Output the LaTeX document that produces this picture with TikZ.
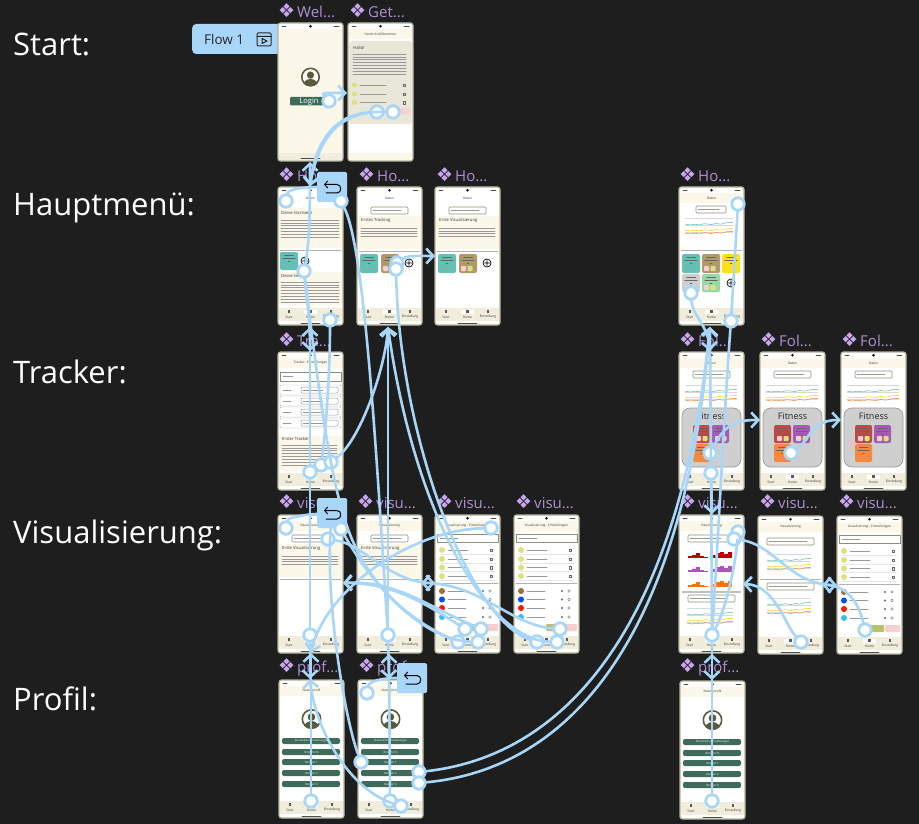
\documentclass[tikz,border=0pt]{standalone}
\usepackage{fontspec}
\setmainfont{Open Sans}
\newfontfamily\symbfont{DejaVu Sans}
\usetikzlibrary{arrows.meta}

\definecolor{canvas}{HTML}{1E1E1E}
\definecolor{wireblue}{HTML}{A8D6F8}
\definecolor{chipviolet}{HTML}{C8A6F0}
\definecolor{labviolet}{HTML}{AE90D2}
\definecolor{edgeolive}{HTML}{B4B19A}
\definecolor{cream}{HTML}{FBF8E9}
\definecolor{navcream}{HTML}{F0EDDC}
\definecolor{panelgrey}{HTML}{E9E7D8}
\definecolor{pillgreen}{HTML}{3F6B5A}
\definecolor{avatarolive}{HTML}{5A5A3C}
\definecolor{limeyellow}{HTML}{DCE27E}
\definecolor{softpink}{HTML}{F6CFCF}
\definecolor{tealtile}{HTML}{66BFB2}
\definecolor{browntile}{HTML}{AE9A6A}
\definecolor{yellowtile}{HTML}{FFE11A}
\definecolor{greytile}{HTML}{CFCFCF}
\definecolor{greentile}{HTML}{96D9A3}
\definecolor{redtile}{HTML}{B84A48}
\definecolor{violettile}{HTML}{A55BB5}
\definecolor{orangetile}{HTML}{F08A45}

\tikzset{
  rowlabel/.style={text=white, font=\fontsize{31}{36}\selectfont, anchor=west, inner sep=0pt},
  chip/.style={text=labviolet, font=\fontsize{15}{18}\selectfont, anchor=west, inner sep=0pt},
  flowtag/.style={fill=wireblue, rounded corners=4pt, minimum width=90pt, minimum height=30pt,
    text=black!85, font=\fontsize{13.5}{16}\selectfont, inner sep=0pt},
  phoneframe/.style={draw=edgeolive, fill=white, line width=1.2pt, rounded corners=2.5pt,
    minimum width=65pt, minimum height=138pt, inner sep=0pt},
  backbox/.style={fill=wireblue, rounded corners=1.5pt, minimum size=30pt, inner sep=0pt},
  hotspot/.style={circle, draw=wireblue, fill=white, line width=2.8pt, minimum size=12.5pt, inner sep=0pt},
  wire/.style={draw=wireblue, line width=2.6pt},
  tip/.style={wire, -{Straight Barb[length=7pt,width=15pt,line width=2.6pt]}},
  textrow/.style={draw=black!40, line width=0.55pt},
  nano/.style={text=black!80, font=\fontsize{3.2}{3.8}\selectfont, inner sep=0pt},
  micro/.style={text=black!80, font=\fontsize{4.2}{5}\selectfont, inner sep=0pt},
  tinypill/.style={text=white, font=\fontsize{2.8}{3.2}\selectfont, inner sep=0pt},
}

% ---------- screen parts ----------
\newcommand{\phone}[4]{%
  \node[phoneframe] (#1) at ({#2+32.5},{#3+69}) {};
  \begin{scope}[shift={(#2,#3)}]
    \fill[cream] (1,6) rectangle (64,16);
    \fill[black] (32.5,3.2) circle (1.4);
    \draw[black!70, line width=0.6pt] (4,3) -- (8,3) (56,3) -- (61,3);
    \node[nano] (#1title) at (32.5,11) {#4};
  \end{scope}}
\newcommand{\navbar}[1]{%
  \fill[navcream] (1,121) rectangle (64,134);
  \fill[white] (26,122.5) rectangle (39,126.5);
  \foreach \sx in {11,32.5,53} \fill[black!65] ({\sx-1.2},123) rectangle ({\sx+1.2},126);
  \node[nano] (#1a) at (11,130) {Start};
  \node[nano] (#1b) at (32.5,130) {Home};
  \node[nano] (#1c) at (53,130) {Einstellung};
  \draw[black!70, line width=0.7pt] (23,136) -- (42,136);}
\newcommand{\txtrows}[4]{%
  \foreach \ri in {1,...,#4} \draw[textrow] (#1,{#2+\ri*2.9}) -- ++(#3,0);}
\newcommand{\dropbox}[3]{%
  \draw[edgeolive!80!black, fill=white, line width=0.6pt, rounded corners=1pt] (#1,#2) rectangle ++(#3,7);
  \draw[textrow] ({#1+2},{#2+3.5}) -- ++({#3-9},0);}
\newcommand{\tile}[5]{%
  \fill[#5, rounded corners=2pt] (#1,#2) rectangle ++(#3,#4);
  \draw[black!60, line width=0.5pt] ({#1+#3*0.25},{#2+3}) -- ++({#3*0.5},0)
    ({#1+#3*0.15},{#2+6.5}) -- ++({#3*0.7},0) ({#1+#3*0.45},{#2+9.5}) -- ++({#3*0.1},0);}
\newcommand{\tilebtn}[2]{%
  \fill[softpink, rounded corners=0.8pt] ({#1},{#2}) rectangle ++(5,5);
  \fill[limeyellow, rounded corners=0.8pt] ({#1+6.5},{#2}) rectangle ++(5,5);}
\newcommand{\plusmark}[2]{%
  \draw[black, line width=0.7pt] (#1,#2) circle (4) ({#1-2.5},#2) -- ({#1+2.5},#2) (#1,{#2-2.5}) -- (#1,{#2+2.5});}
\newcommand{\wobble}[4]{%
  \draw[#4, line width=0.55pt] (#1,{#2}) -- ++({#3*.1},1) -- ++({#3*.1},-.8) -- ++({#3*.1},.7) -- ++({#3*.1},-1.2)
    -- ++({#3*.15},.8) -- ++({#3*.1},-1) -- ++({#3*.1},.7) -- ++({#3*.1},-1.4) -- ++({#3*.15},-.4);}
\newcommand{\chart}[3]{%
  \draw[black!15, line width=0.4pt] (#1,#2) -- ++(#3,0) (#1,{#2+7}) -- ++(#3,0) (#1,{#2+14}) -- ++(#3,0);
  \wobble{#1}{#2+6}{#3}{tealtile}
  \wobble{#1}{#2+12}{#3}{yellowtile!80!orange}
  \wobble{#1}{#2+15}{#3}{orangetile}}
\newcommand{\bars}[3]{%
  \foreach \bx/\bh in {0/2,4/3,8/5,12/2,16/1,24/3,28/5,32/6,36/4,40/6}
    \fill[#3] ({#1+\bx},#2) rectangle ++(3.6,-\bh);}
\newcommand{\avatar}[3]{%
  \begin{scope}
    \clip (#1,#2) circle (#3);
    \fill[white] (#1,#2) circle (#3);
    \fill[avatarolive] (#1,{#2-#3*.2}) circle ({#3*.38});
    \fill[avatarolive] (#1,{#2+#3*1.0}) circle ({#3*.8});
  \end{scope}
  \draw[avatarolive, line width=1.6pt] (#1,#2) circle ({#3-.8});}
\newcommand{\homepanel}[2]{%
  \fill[cream] (1,29) rectangle (64,62);
  \node[micro, anchor=west] (#2) at (4,33) {#1};
  \txtrows{4}{38}{56}{4}
  \draw[black!30, line width=0.5pt] (2,64) -- (63,64);}
\newcommand{\vissettings}[1]{%
  \draw[edgeolive!80!black, line width=0.7pt] (2,19) rectangle (63,27);
  \draw[textrow] (5,23) -- ++(18,0);
  \foreach \sy in {35,44,52.5,61} {
    \fill[limeyellow] (7,\sy) circle (3);
    \draw[textrow] (13,\sy) -- ++(20,0);
    \draw[black!60, line width=0.4pt] (55,{\sy-1.3}) rectangle ++(2.6,2.6);
    \draw[black!10, line width=0.4pt] (5,{\sy+4}) -- (60,{\sy+4});}
  \draw[black!30, line width=0.5pt] (2,68.5) -- (63,68.5);
  \foreach \sy/\sc in {76/brown!85!black,84.5/blue!70!cyan,93/red!85!orange,102/cyan!80} {
    \fill[\sc] (7,\sy) circle (3);
    \draw[textrow] (13,\sy) -- ++(18,0);
    \fill[black!60] (48,\sy) circle (1.2);
    \draw[black!60, line width=0.4pt] (55,\sy) circle (1.3);}
  \fill[limeyellow!85!black, rounded corners=1pt] (32,109) rectangle ++(15,7);
  \fill[softpink, rounded corners=1pt] (48,109) rectangle ++(15,7);
  \navbar{#1}}
\newcommand{\fitnessbox}[1]{%
  \dropbox{14}{19}{37}
  \chart{6}{33}{52}
  \fill[greytile, draw=black!40, line width=0.7pt, rounded corners=8pt] (3,56) rectangle (62,115);
  \node[text=black!85, font=\fontsize{9}{11}\selectfont, inner sep=0pt] (#1) at (32.5,64) {Fitness};
  \tile{14}{73}{17}{18}{redtile}\tilebtn{17}{84}
  \tile{33}{73}{17}{18}{violettile}\tilebtn{36}{84}
  \tile{14}{92}{17}{18}{orangetile}
  \navbar{#1nav}}
\newcommand{\returnmark}[2]{%
  \begin{scope}[shift={(#1,#2)}]
    \draw[black, line width=1pt, -{Straight Barb[length=3pt,width=7pt,line width=1pt]}]
      (-6,6) -- (5,6) .. controls (10,6) and (10,-2.5) .. (5,-2.5) -- (-8,-2.5);
  \end{scope}}

\begin{document}
\begin{tikzpicture}[x=1pt,y=-1pt,line cap=round,line join=round]
\useasboundingbox (0,0) rectangle (919,824);
\fill[canvas] (0,0) rectangle (919,824);

% ---------- row labels ----------
\node[rowlabel] (lblStart) at (13,44) {Start:};
\node[rowlabel] (lblMenu) at (13,208) {Hauptmenü:};
\node[rowlabel] (lblTracker) at (13,372) {Tracker:};
\node[rowlabel] (lblVis) at (13,535) {Visualisierung:};
\node[rowlabel] (lblProfil) at (13,699) {Profil:};

% ---------- frame chips ----------
\foreach \cname/\cx/\cy/\ctext in {a/278/11/Wel, b/349/11/Get,
    c/278/175/Ho, d/358/175/Ho, e/436/175/Ho, f/679/175/Ho,
    g/278/340/Tra, h/679/340/Fol, i/760/340/Fol, j/841/340/Fol,
    k/278/502/visu, l/357/502/visu, m/436/502/visu, n/515/502/visu,
    o/679/502/visu, p/759/502/visu, q/838/502/visu,
    r/278/667/prof, s/358/667/prof, t/679/667/prof}
  \node[chip] (chip\cname) at (\cx,\cy) {\textcolor{chipviolet}{\fontsize{19}{19}\selectfont\symbfont ❖}\hspace{2pt}\ctext...};

% ---------- flow start ----------
\node[flowtag, anchor=west] (flowTag) at (192,39) {\hspace{-26pt}Flow 1};
\draw[black!85, line width=1pt, rounded corners=1pt] (257,33) rectangle (271,46);
\draw[black!85, line width=1pt] (257,36.5) -- (271,36.5) (262,38.5) -- (267,41) -- (262,43.5) -- cycle;

% ---------- start screens ----------
\phone{scrWelcome}{278}{23}{}
\begin{scope}[shift={(278,23)}]
  \fill[cream] (1,6) rectangle (64,130);
  \fill[navcream] (1,130) rectangle (64,137);
  \draw[black!70, line width=0.7pt] (23,135) -- (42,135);
  \avatar{32.5}{54}{9.5}
  \fill[pillgreen, rounded corners=1pt] (12,74) rectangle (49,82.5);
  \node[text=white, font=\fontsize{7.5}{9}\selectfont, inner sep=0pt] (txtLogin) at (31,78.5) {Login};
\end{scope}
\phone{scrGetstart}{348}{23}{Herzlich Willkommen}
\begin{scope}[shift={(348,23)}]
  \fill[panelgrey, rounded corners=3pt] (1,18) rectangle (64,101);
  \node[micro, anchor=west] (txtHallo) at (5,25) {Hallo!};
  \txtrows{5}{28}{53}{8}
  \foreach \sy in {62,71,79.5} {\fill[limeyellow] (6.5,\sy) circle (2.6);
    \draw[textrow] (12,\sy) -- ++(26,0);
    \draw[black!60, line width=0.4pt] (55,{\sy-1.2}) rectangle ++(2.6,2.6);}
  \fill[softpink, rounded corners=1pt] (44,85) rectangle ++(17,6.5);
  \fill[cream] (1,130) rectangle (64,137);
\end{scope}

% ---------- main menu screens ----------
\phone{scrHomeA}{278}{187}{}
\begin{scope}[shift={(278,187)}]
  \fill[white] (1,6) rectangle (64,16);
  \node[nano] (txtDatenA) at (32.5,11) {Daten};
  \fill[cream] (1,21) rectangle (64,61);
  \node[micro, anchor=west] (txtStartseite) at (3,26) {Deine Startseite};
  \txtrows{3}{30}{58}{7}
  \draw[black!30, line width=0.5pt] (2,63) -- (63,63);
  \tile{2}{65}{18}{18}{tealtile}
  \plusmark{27}{74}
  \fill[cream] (1,85) rectangle (64,118);
  \node[micro, anchor=west] (txtServices) at (3,89) {Deine Services};
  \txtrows{3}{92}{58}{8}
  \navbar{navHomeA}
\end{scope}
\phone{scrHomeB}{357}{187}{}
\begin{scope}[shift={(357,187)}]
  \fill[white] (1,6) rectangle (64,16);
  \node[nano] (txtDatenB) at (32.5,11) {Daten};
  \dropbox{14}{20}{37}
  \homepanel{Erstes Tracking}{txtTracking}
  \tile{3}{67}{18}{19}{tealtile}
  \tile{24}{67}{18}{19}{browntile}\tilebtn{26}{79}
  \plusmark{52}{76}
  \navbar{navHomeB}
\end{scope}
\phone{scrHomeC}{435}{187}{}
\begin{scope}[shift={(435,187)}]
  \fill[white] (1,6) rectangle (64,16);
  \node[nano] (txtDatenC) at (32.5,11) {Daten};
  \dropbox{14}{20}{37}
  \homepanel{Erste Visualisierung}{txtErsteVis}
  \tile{3}{67}{18}{19}{tealtile}
  \tile{24}{67}{18}{19}{browntile}\tilebtn{26}{79}
  \plusmark{52}{76}
  \navbar{navHomeC}
\end{scope}
\phone{scrHomeD}{679}{187}{Daten}
\begin{scope}[shift={(679,187)}]
  \dropbox{17}{19}{30}
  \chart{6}{31}{48}
  \draw[black!30, line width=0.5pt] (2,63) -- (63,63);
  \tile{3}{67}{18}{19}{tealtile}
  \tile{23}{67}{18}{19}{browntile}\tilebtn{25}{79}
  \tile{43}{67}{18}{19}{yellowtile}
  \tile{3}{87}{18}{18}{greytile}
  \tile{23}{87}{18}{18}{greentile}\tilebtn{25}{98}
  \plusmark{52}{96}
  \navbar{navHomeD}
\end{scope}

% ---------- tracker screens ----------
\phone{scrTracker}{278}{352}{Tracker - Einstellungen}
\begin{scope}[shift={(278,352)}]
  \draw[edgeolive!80!black, line width=0.7pt] (2,20) rectangle (63,29);
  \draw[textrow] (5,24.5) -- ++(10,0);
  \foreach \sy in {38,49,60,71} {
    \draw[black!30, line width=0.4pt, rounded corners=1pt] (2,{\sy-5}) rectangle (63,{\sy+5});
    \draw[textrow] (5,\sy) -- ++(8,0);
    \draw[black!40, line width=0.5pt, rounded corners=1pt] (23,{\sy-3}) rectangle (60,{\sy+3});
    \draw[textrow] (25,\sy) -- ++(20,0);}
  \fill[cream] (1,84) rectangle (64,119);
  \node[micro, anchor=west] (txtTracker) at (4,87) {Erster Tracker};
  \txtrows{4}{90}{55}{8}
  \navbar{navTracker}
\end{scope}
\phone{scrFolA}{679}{352}{Daten}
\begin{scope}[shift={(679,352)}]\fitnessbox{fitA}\end{scope}
\phone{scrFolB}{760}{352}{Daten}
\begin{scope}[shift={(760,352)}]\fitnessbox{fitB}\end{scope}
\phone{scrFolC}{841}{352}{Daten}
\begin{scope}[shift={(841,352)}]\fitnessbox{fitC}\end{scope}

% ---------- visualisation screens ----------
\phone{scrVisA}{278}{515}{Visualisierung}
\begin{scope}[shift={(278,515)}]
  \dropbox{14}{20}{37}
  \homepanel{Erste Visualisierung}{txtVisA}
  \navbar{navVisA}
\end{scope}
\phone{scrVisB}{357}{515}{Visualisierung}
\begin{scope}[shift={(357,515)}]
  \dropbox{14}{20}{37}
  \homepanel{Erste Visualisierung}{txtVisB}
  \navbar{navVisB}
\end{scope}
\phone{scrVisC}{435}{515}{Visualisierung - Einstellungen}
\begin{scope}[shift={(435,515)}]\vissettings{navVisC}\end{scope}
\phone{scrVisD}{514}{515}{Visualisierung - Einstellungen}
\begin{scope}[shift={(514,515)}]\vissettings{navVisD}\end{scope}
\phone{scrVisE}{679}{515}{Visualisierung}
\begin{scope}[shift={(679,515)}]
  \dropbox{9}{20}{40}
  \bars{9}{43}{red!75!black}
  \bars{9}{57}{violettile!90!magenta}
  \bars{9}{72}{orange!90!red}
  \fill[black!25] (3,76) rectangle (62,78);
  \dropbox{9}{80}{47}
  \chart{8}{93}{46}
  \navbar{navVisE}
\end{scope}
\phone{scrVisF}{758}{516}{Visualisierung}
\begin{scope}[shift={(758,516)}]
  \dropbox{9}{22}{47}
  \chart{9}{38}{44}
  \draw[black!30, line width=0.5pt] (2,63) -- (63,63);
  \dropbox{9}{67}{47}
  \chart{9}{82}{44}
  \navbar{navVisF}
\end{scope}
\phone{scrVisG}{837}{516}{Visualisierung - Einstellungen}
\begin{scope}[shift={(837,516)}]\vissettings{navVisG}\end{scope}

% ---------- profile screens ----------
\foreach \pname/\px/\py in {scrProfA/279/680,scrProfB/358/680,scrProfC/680/681} {
  \phone{\pname}{\px}{\py}{Nutzerprofil}
  \begin{scope}[shift={(\px,\py)}]
    \avatar{32.5}{39}{10}
    \foreach \ry/\ptext/\pid in {61/Persönliche Einstellungen/a,72/Bildschirm/b,82/Notizen 1/c,93/Notizen 2/d,104/Notizen 3/e} {
      \fill[pillgreen, rounded corners=2pt] (3,{\ry-3}) rectangle (61,{\ry+3});
      \node[tinypill] (\pname\pid) at (32.5,\ry) {\ptext};}
    \navbar{\pname nav}
  \end{scope}}

% ---------- back boxes ----------
\foreach \bname/\bx/\by in {backHome/332/187,backVis/332/513,backProf/412/678} {
  \node[backbox] (\bname) at (\bx,\by) {};
  \returnmark{\bx}{\by}}

% ---------- hotspots ----------
\foreach \hname/\hx/\hy in {hLogin/329/101, hGetA/377/112, hGetB/393/112,
    hHomeL/286/201, hHomeBack/341/201, hHomeS/304/271, hHomeE/330/320,
    hHomeM/397/263, hHomeN/396/269,
    hDataA/738/204, hDataB/731/321, hDataC/691/293,
    hTrA/310/472, hTrB/321/465, hTrC/331/462,
    hFolA/710/453, hFolB/711/473, hFolC/791/453,
    hVisL/286/528, hVisBack/341/529, hVisM/328/539, hVisA/310/635, hVisB/388/635,
    hVisCa/465/629, hVisCb/481/629, hVisCc/458/642, hVisCd/478/642, hVisCe/491/528,
    hVisDa/560/629, hVisDb/537/642, hVisDc/557/642,
    hVisEa/738/532, hVisEb/734/539, hVisEc/712/635, hVisF/801/642, hVisG/865/630,
    hProfA/311/801, hProfL/367/693, hProfM/361/762, hProfN/390/801, hProfP/401/806,
    hProfR/419/772, hProfS/419/783, hProfC/712/801}
  \node[hotspot] (\hname) at (\hx,\hy) {};

% ---------- arrow ends ----------
\coordinate (tGet) at (347,93);
\coordinate (tHomeTop) at (310,186);
\coordinate (tHomeBot) at (310,327);
\coordinate (tWelBot) at (310,162);
\coordinate (tHomeBBot) at (388,327);
\coordinate (tHomeC) at (435,256);
\coordinate (tDataBot) at (710,327);
\coordinate (tTrTop) at (310,351);
\coordinate (tFolTop) at (710,351);
\coordinate (tFolB) at (760,420);
\coordinate (tFolC) at (841,420);
\coordinate (tVisAr) at (343,583);
\coordinate (tVisAb) at (311,653);
\coordinate (tVisBr) at (421,583);
\coordinate (tVisBb) at (389,654);
\coordinate (tVisC) at (435,583);
\coordinate (tVisETop) at (712,514);
\coordinate (tVisEr) at (743,584);
\coordinate (tVisEb) at (712,654);
\coordinate (tVisFr) at (822,585);
\coordinate (tVisG) at (837,585);
\coordinate (tProfA) at (310,679);
\coordinate (tProfB) at (389,679);
\coordinate (tProfC) at (712,680);

% ---------- left connectors ----------
\draw[tip] (hLogin) .. controls (320,92) and (330,93) .. (tGet);
\draw[tip] (hGetA) .. controls (340,114) and (316,135) .. (tHomeTop);
\draw[tip] (hGetB) .. controls (345,111) and (320,130) .. (tHomeTop);
\draw[tip] (hHomeS) .. controls (310,240) and (310,200) .. (tWelBot);
\draw[tip] (hHomeS) .. controls (307,300) and (310,320) .. (tTrTop);
\draw[wire] (hHomeL) .. controls (288,190) and (300,187) .. (backHome);
\draw[wire] (hVisL) .. controls (288,518) and (300,515) .. (backVis);
\draw[wire] (hProfL) .. controls (369,682) and (380,678) .. (backProf);
\draw[wire] (hHomeBack) .. controls (365,250) and (376,450) .. (hVisB);
\draw[tip] (hHomeM) .. controls (408,255) and (420,256) .. (tHomeC);
\draw[tip] (hTrA) -- (tHomeBot);
\draw[wire] (hVisA) -- (hTrA);
\draw[tip] (hTrC) .. controls (360,440) and (385,370) .. (tHomeBBot);
\draw[wire] (hHomeE) .. controls (330,370) and (326,430) .. (hTrB);
\draw[tip] (hVisB) -- (tHomeBBot);
\draw[tip] (hVisB) -- (tProfB);
\draw[tip] (hProfN) -- (tVisBb);
\draw[tip] (hVisA) -- (tProfA);
\draw[tip] (hProfA) -- (tVisAb);
\draw[tip] (hProfP) .. controls (350,790) and (315,730) .. (tProfA);
\draw[wire] (hProfM) .. controls (345,720) and (325,600) .. (backVis);
\draw[wire] (hHomeS) .. controls (315,360) and (328,470) .. (345,520) .. controls (365,585) and (410,620) .. (hVisCc);
\draw[wire] (hVisBack) .. controls (375,590) and (425,640) .. (hVisCd);
\draw[tip] (hVisCa) .. controls (420,600) and (390,583) .. (tVisAr);
\draw[tip] (hVisCb) .. controls (425,605) and (395,580) .. (tVisAr);
\draw[tip] (hVisCe) .. controls (410,530) and (325,590) .. (tVisAb);
\draw[tip] (hVisM) .. controls (365,545) and (390,583) .. (tVisC);
\draw[tip] (hVisDa) .. controls (510,625) and (480,583) .. (tVisBr);
\draw[wire] (hVisDb) .. controls (470,620) and (400,440) .. (hHomeN);
\draw[tip] (hVisDc) .. controls (490,640) and (415,520) .. (tHomeBBot);

% ---------- right connectors ----------
\draw[tip] (hProfR) .. controls (570,755) and (680,620) .. (tDataBot);
\draw[tip] (hProfS) .. controls (575,768) and (685,630) .. (tDataBot);
\draw[wire] (hDataA) -- (hDataB);
\draw[wire] (hDataB) .. controls (725,400) and (718,540) .. (hVisEc);
\draw[tip] (hDataC) .. controls (692,315) and (708,325) .. (tFolTop);
\draw[tip] (hFolB) -- (tDataBot);
\draw[tip] (hFolB) -- (tVisETop);
\draw[wire] (hVisEc) -- (hFolB);
\draw[tip] (hFolA) .. controls (725,425) and (735,420) .. (tFolB);
\draw[tip] (hFolC) .. controls (810,440) and (810,420) .. (tFolC);
\draw[tip] (hVisEc) -- (tProfC);
\draw[tip] (hProfC) -- (tVisEb);
\draw[wire] (hVisEa) .. controls (735,570) and (725,610) .. (hVisEc);
\draw[tip] (hVisEb) .. controls (775,545) and (790,585) .. (tVisG);
\draw[tip] (hVisG) .. controls (858,600) and (845,585) .. (tVisFr);
\draw[tip] (hVisF) .. controls (785,625) and (775,585) .. (tVisEr);

\end{tikzpicture}
\end{document}
